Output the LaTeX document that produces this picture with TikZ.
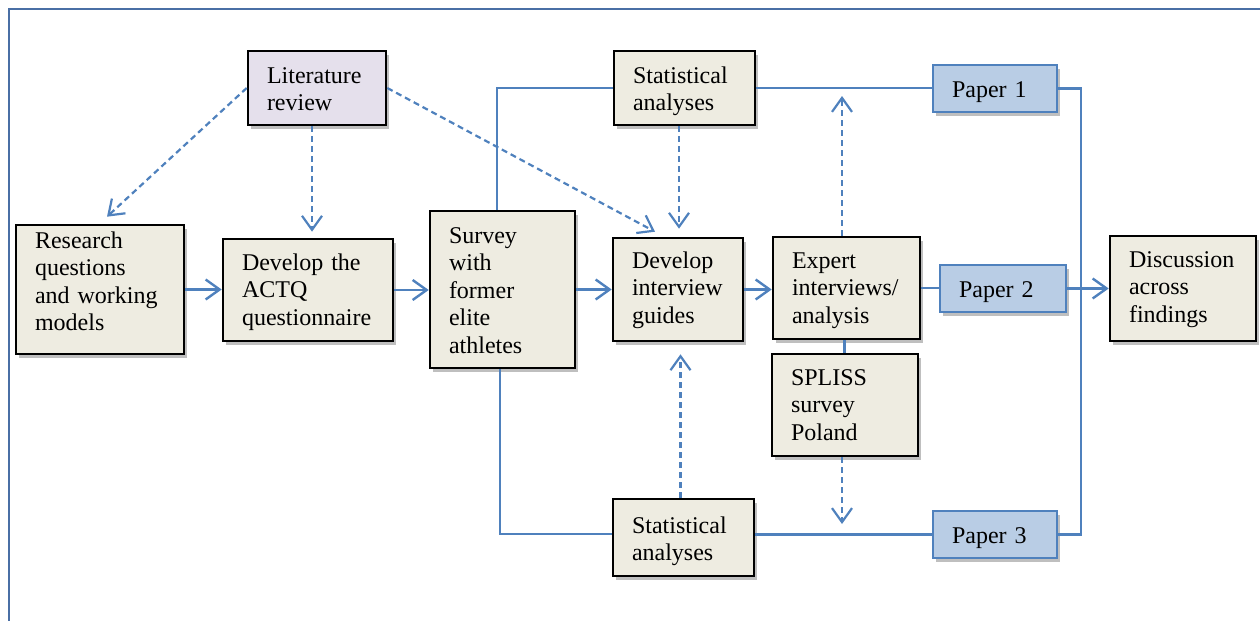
\documentclass[tikz,border=0pt]{standalone}
\usepackage{fontspec}
\setmainfont{Liberation Serif}
\usetikzlibrary{arrows.meta,shadows}
\definecolor{lnblue}{HTML}{4F81BD}
\definecolor{beige}{HTML}{EEECE1}
\definecolor{lavender}{HTML}{E5E0EC}
\definecolor{paperblue}{HTML}{B9CDE5}
\definecolor{framecol}{HTML}{4A6FA5}
\tikzset{
  shad/.style={drop shadow={shadow xshift=2.5pt, shadow yshift=-3.5pt, opacity=0.25, fill=black}},
  box/.style={draw=black, line width=2.6pt, fill=beige, inner xsep=19pt, inner ysep=15pt, align=left, shad},
  litbox/.style={box, fill=lavender},
  paper/.style={draw=lnblue, line width=2.4pt, fill=paperblue, inner xsep=19pt, inner ysep=15pt, align=left, shad},
  ln/.style={lnblue, line width=2.4pt},
  arr/.style={ln, -{Straight Barb[length=14pt,width=20pt]}},
  dsh/.style={lnblue, line width=2.2pt, dash pattern=on 6pt off 4pt, -{Straight Barb[length=14pt,width=20pt]}}
}
\begin{document}
\begin{tikzpicture}[x=1pt,y=-1pt, font=\fontsize{24}{27.6}\selectfont]
\useasboundingbox (0,0) rectangle (1260,621);
\draw[framecol, line width=1.5pt] (1260,9) -- (9,9) -- (9,621);

\node[litbox, text width=100pt, text height=17pt, text depth=27pt] (lit) at (317,88) {Literature\\review};
\node[box, text width=130pt, text height=8pt, text depth=91pt] (rq) at (100,289.5) {Research\\questions\\and working\\models};
\node[box, text width=132pt, text height=16pt, text depth=56pt] (actq) at (308,290) {Develop the\\ACTQ\\questionnaire};
\node[box, text width=107pt, text height=17pt, text depth=110pt] (survey) at (502.5,289.5) {Survey\\with\\former\\elite\\athletes};
\node[box, text width=92pt, text height=15pt, text depth=58pt] (guides) at (678,289.5) {Develop\\interview\\guides};
\node[box, text width=109pt, text height=16pt, text depth=56pt] (expert) at (846.5,288) {Expert\\interviews/\\analysis};
\node[box, text width=108pt, text height=16pt, text depth=56pt] (spliss) at (845,405) {SPLISS\\survey\\Poland};
\node[box, text width=103pt, text height=17pt, text depth=27pt] (stat1) at (684.5,88) {Statistical\\analyses};
\node[box, text width=103pt, text height=19pt, text depth=28pt] (stat2) at (683.5,537.5) {Statistical\\analyses};
\node[box, text width=108pt, text height=16pt, text depth=59pt] (disc) at (1183,288.5) {Discussion\\across\\findings};
\node[paper, text width=86pt, text height=17pt, text depth=0pt] (paper1) at (995,88.5) {Paper 1};
\node[paper, text width=88pt, text height=17pt, text depth=0pt] (paper2) at (1003,288.5) {Paper 2};
\node[paper, text width=86pt, text height=17pt, text depth=0pt] (paper3) at (995,534.5) {Paper 3};

\coordinate (bus) at (1081,300);

% solid flow
\draw[arr] (rq.east) -- (rq.east -| actq.west);
\draw[arr] (actq.east) -- (actq.east -| survey.west);
\draw[arr] (survey.east) -- (survey.east -| guides.west);
\draw[arr] (guides.east) -- (guides.east -| expert.west);
\draw[ln] (expert.east) -- (expert.east -| paper2.west);
\draw[arr] (paper2.east) -- (paper2.east -| disc.west);
\draw[ln] (paper1.east) -- (paper1.east -| bus) -- (paper3.east -| bus) -- (paper3.east);
\draw[ln] ([xshift=-5.5pt]survey.north) |- (stat1.west);
\draw[ln] (stat1.east) -- (stat1.east -| paper1.west);
\draw[ln] ([xshift=-2.5pt]survey.south) |- ([yshift=3.5pt]stat2.west);
\draw[ln] (paper3.west -| stat2.east) -- (paper3.west);
\draw[ln] ([xshift=-2pt]expert.south) -- ([xshift=-2pt]expert.south |- spliss.north);

% dashed
\coordinate (t1) at ([xshift=7pt,yshift=7pt]rq.north);
\coordinate (t2) at ([xshift=4pt,yshift=6pt]actq.north);
\coordinate (t3) at ([xshift=-23pt,yshift=5pt]guides.north);
\coordinate (t4) at ([xshift=1pt,yshift=8pt]guides.north);
\coordinate (t5) at ([xshift=2.5pt,yshift=-12pt]guides.south);
\coordinate (t6) at (842,96);
\coordinate (t7) at (842,524);
\draw[dsh] (lit.west) -- (t1);
\draw[dsh] (lit.south -| t2) -- (t2);
\draw[dsh] (lit.east) -- (t3);
\draw[dsh] (stat1.south -| t4) -- (t4);
\draw[dsh] (stat2.north -| t5) -- (t5);
\draw[dsh] (expert.north -| t6) -- (t6);
\draw[dsh] (spliss.south -| t7) -- (t7);
\end{tikzpicture}
\end{document}
